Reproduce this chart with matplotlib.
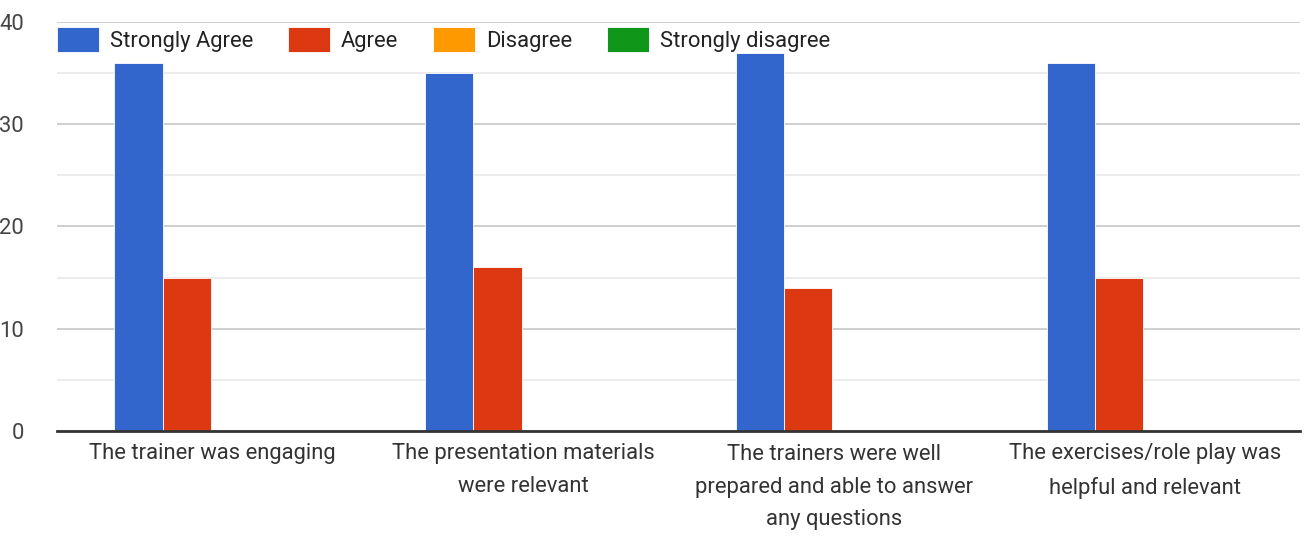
import matplotlib.pyplot as plt
import numpy as np

categories = [
    "The trainer was engaging",
    "The presentation materials\nwere relevant",
    "The trainers were well\nprepared and able to answer\nany questions",
    "The exercises/role play was\nhelpful and relevant",
]
series_names = ["Strongly Agree", "Agree", "Disagree", "Strongly disagree"]
strongly_agree = [36, 35, 37, 36]
agree = [15, 16, 14, 15]
disagree = [0, 0, 0, 0]
strongly_disagree = [0, 0, 0, 0]
colors = ["#3366cc", "#dc3912", "#ff9900", "#109618"]

plt.rcParams["font.family"] = ["Roboto", "DejaVu Sans"]
FS = 15.8

fig = plt.figure(figsize=(13.06, 5.38), dpi=100)
ax = fig.add_axes([57 / 1306, 1 - 431 / 538, 1243 / 1306, 409 / 538])

x = np.arange(len(categories))
width = 0.155
values = [strongly_agree, agree, disagree, strongly_disagree]
for i, (name, vals) in enumerate(zip(series_names, values)):
    offset = (i - 1.5) * width - 0.005
    ax.bar(x + offset, vals, width, color=colors[i], label=name,
           edgecolor="white", linewidth=0.6, zorder=3)

ax.set_xlim(-0.5, len(categories) - 0.5)
ax.set_ylim(0, 40)
ax.set_yticks([0, 10, 20, 30, 40])
ax.set_yticks([5, 15, 25, 35], minor=True)
ax.grid(axis="y", which="major", color="#cccccc", linewidth=1.3, zorder=0)
ax.grid(axis="y", which="minor", color="#ebebeb", linewidth=1.3, zorder=0)
for s in ["top", "right", "left"]:
    ax.spines[s].set_visible(False)
ax.spines["bottom"].set_color("#333333")
ax.spines["bottom"].set_linewidth(2)
ax.spines["bottom"].set_zorder(4)

ax.set_xticks(x)
ax.set_xticklabels(categories, fontsize=FS, color="#333333", linespacing=1.75)
ax.tick_params(axis="x", length=0, pad=9)
ax.tick_params(axis="y", which="both", length=0, pad=24, labelsize=FS, labelcolor="#444444")

handles, labels = ax.get_legend_handles_labels()
fig.legend(handles, labels, loc="center left",
           bbox_to_anchor=(57 / 1306, 1 - 39.5 / 538), ncol=4, frameon=False,
           fontsize=FS, borderpad=0, borderaxespad=0, handlelength=1.9,
           handleheight=1.35, handletextpad=0.5, columnspacing=1.6,
           labelcolor="#222222")

fig.savefig("out.png", dpi=100, facecolor="white")
